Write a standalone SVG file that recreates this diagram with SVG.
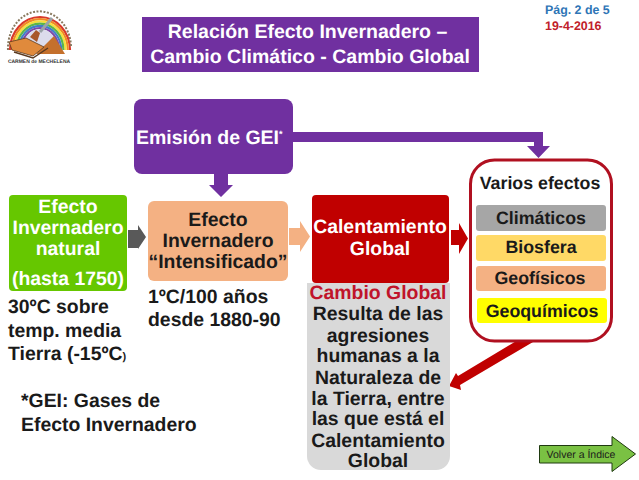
<svg xmlns="http://www.w3.org/2000/svg" width="639" height="480" viewBox="0 0 639 480">
<style>
text{font-family:"Liberation Sans",Arial,sans-serif;font-weight:bold;text-anchor:middle;text-rendering:geometricPrecision}
.w{fill:#fff}.k{fill:#1a1a1a}.l{text-anchor:start}
.s17{font-size:19.400px}.s18{font-size:19.400px}.s16{font-size:17.800px}
.arc{fill:none;stroke-width:2.200}
</style>
<rect width="639" height="480" fill="#fff"/>
<g id="logo">
<path class="arc" stroke="#d8392b" d="M10 50A30 33 0 0 1 70 50"/>
<path class="arc" stroke="#f08a24" d="M12.200 50A27.800 30.800 0 0 1 67.800 50"/>
<path class="arc" stroke="#f6df3c" d="M14.400 50A25.600 28.600 0 0 1 65.600 50"/>
<path class="arc" stroke="#5cb648" d="M16.600 50A23.400 26.400 0 0 1 63.400 50"/>
<path class="arc" stroke="#3f7fc8" d="M18.800 50A21.200 24.200 0 0 1 61.200 50"/>
<path class="arc" stroke="#7d4aa8" d="M21 50A19 22 0 0 1 59 50"/>
<path d="M22 50A18 21 0 0 1 58 50Z" fill="#dcdcec"/>
<path d="M36 54L54 36L65 54Z" fill="#c4702c"/>
<path d="M30 37L36 30L40 33L37 42Z" fill="#a8572a"/>
<path d="M52 18L40 32" stroke="#9aa3a8" stroke-width="3" fill="none"/>
<path d="M9 42L26 38L44 47L33 56L12 50Z" fill="#e08a3c" stroke="#5a3a20" stroke-width="0.800"/>
<path d="M14 52L33 58L48 48" fill="none" stroke="#5a3a20" stroke-width="1.500"/>
<path d="M8 50A31 36 0 0 1 71 46" fill="none" stroke="#8a7a60" stroke-width="2" stroke-dasharray="2 1.500"/>
<text x="39" y="63" font-size="5" fill="#333">CARMEN de MECHELENA</text>
</g>
<g id="title">
<rect x="142" y="17" width="337" height="55" fill="#7030a0"/>
<text class="w" x="307.500" y="38" style="font-size:19.500px">Relación Efecto Invernadero –</text>
<text class="w" x="310" y="63" style="font-size:19.500px">Cambio Climático - Cambio Global</text>
</g>
<g id="page">
<text class="l" x="545" y="14" font-size="12.400" fill="#2e75b6">Pág. 2 de 5</text>
<text class="l" x="545" y="30" font-size="12.400" fill="#c0202a">19-4-2016</text>
</g>
<g id="connectors">
<path d="M293 132H543V146H550L538.500 158L527 146H534V142H293Z" fill="#7030a0"/>
<path d="M214 174H228V185H233L221 197L209 185H214Z" fill="#7030a0"/>
<path d="M128 230H138V225L146 237L138 249V248H128Z" fill="#595959"/>
<path d="M289 228H300V221L310 236.500L300 252V245H289Z" fill="#f4b183"/>
<path d="M451 230H459V223L468 238.500L459 254V245H451Z" fill="#c00000"/>
<path d="M518 340L533 342L460 385L461 390L449 386L456 373L458 376Z" fill="#c00000"/>
</g>
<g id="emision">
<rect x="134" y="99" width="159" height="75" rx="8" fill="#7030a0"/>
<text class="w l" x="136" y="144" style="font-size:19.500px">Emisión de GEI<tspan font-size="9" dy="-7">*</tspan></text>
</g>
<g id="natural">
<rect x="9" y="195" width="118" height="96" rx="4" fill="#66c700"/>
<text class="w s17" x="68" y="213">Efecto</text>
<text class="w s17" x="68" y="234">Invernadero</text>
<text class="w s17" x="68" y="255">natural</text>
<text class="w s17" x="68" y="285">(hasta 1750)</text>
</g>
<g id="natural-note">
<text class="k s18 l" x="8" y="313">30ºC sobre</text>
<text class="k s18 l" x="8" y="337">temp. media</text>
<text class="k s18 l" x="8" y="360">Tierra (-15ºC<tspan font-size="11">)</tspan></text>
</g>
<g id="intensificado">
<rect x="148" y="201" width="140" height="80" rx="6" fill="#f4b183"/>
<text class="k s17" x="218" y="226">Efecto</text>
<text class="k s17" x="218" y="247">Invernadero</text>
<text class="k s17" x="218" y="268">“Intensificado”</text>
</g>
<g id="intensificado-note">
<text class="k s18 l" x="148" y="303">1ºC/100 años</text>
<text class="k s18 l" x="148" y="326">desde 1880-90</text>
</g>
<g id="cambio">
<path d="M307 283H450V456A14 14 0 0 1 436 470H321A14 14 0 0 1 307 456Z" fill="#d9d9d9"/>
<text class="s18" x="378" y="299" fill="#c0142a">Cambio Global</text>
<text class="k s18" x="378" y="320">Resulta de las</text>
<text class="k s18" x="378" y="342">agresiones</text>
<text class="k s18" x="378" y="362">humanas a la</text>
<text class="k s18" x="378" y="384">Naturaleza de</text>
<text class="k s18" x="378" y="405">la Tierra, entre</text>
<text class="k s18" x="378" y="425">las que está el</text>
<text class="k s18" x="378" y="447">Calentamiento</text>
<text class="k s18" x="378" y="467">Global</text>
</g>
<g id="calentamiento">
<rect x="312" y="195" width="137" height="88" rx="4" fill="#c00000"/>
<text class="w s17" x="380" y="233">Calentamiento</text>
<text class="w s17" x="380" y="255">Global</text>
</g>
<g id="efectos">
<rect x="470.500" y="160" width="141" height="181" rx="24" fill="#fff" stroke="#b01020" stroke-width="3"/>
<text class="k s16" x="540" y="189">Varios efectos</text>
<rect x="476" y="205" width="130" height="26" rx="3" fill="#a6a6a6"/>
<text class="k s16" x="541" y="224">Climáticos</text>
<rect x="476" y="235" width="130" height="26" rx="3" fill="#ffd966"/>
<text class="k s16" x="541" y="253">Biosfera</text>
<rect x="476" y="266" width="130" height="25" rx="3" fill="#f4b183"/>
<text class="k s16" x="540" y="284">Geofísicos</text>
<rect x="477" y="298" width="130" height="25" rx="3" fill="#ffff00"/>
<text class="k s16" x="542" y="317">Geoquímicos</text>
</g>
<g id="glosario">
<text class="k s18 l" x="21" y="407">*GEI: Gases de</text>
<text class="k s18 l" x="21" y="431">Efecto Invernadero</text>
</g>
<g id="volver">
<path d="M539.500 445.500H612V436.500L635.500 454L612 471.500V463H539.500Z" fill="#7ac143" stroke="#1f3a10" stroke-width="1"/>
<text x="581" y="458" font-size="10.500" fill="#1a1a1a" style="font-weight:normal">Volver a Índice</text>
</g>
</svg>
